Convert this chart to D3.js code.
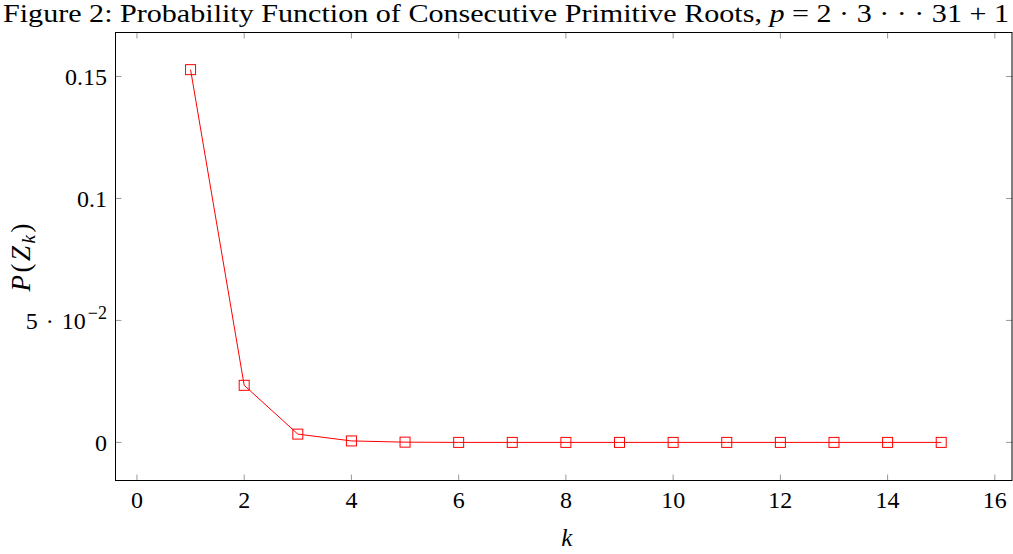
<!DOCTYPE html>
<html>
<head>
<meta charset="utf-8">
<script src="https://d3js.org/d3.v7.min.js"></script>
<style>
body { margin: 0; background: #fff; }
text { font-family: "Liberation Serif", "DejaVu Serif", serif; fill: #000; }
</style>
</head>
<body>
<svg></svg>
<script>
let width = 1013, height = 554;

// data
var kValues = [1, 2, 3, 4, 5, 6, 7, 8, 9, 10, 11, 12, 13, 14, 15];
var probValues = [0.1528, 0.0234, 0.0034, 0.0006, 0.0001, 0, 0, 0, 0, 0, 0, 0, 0, 0, 0];
var xTicks = [0, 2, 4, 6, 8, 10, 12, 14, 16];
var yTicks = [0, 0.05, 0.1, 0.15];

let svg = d3.select("svg").attr("width", width).attr("height", height);

let plotLeft = 115.5, plotRight = 1012, plotTop = 32.5, plotBottom = 480.5;

var x = d3.scaleLinear().domain([-0.4, 16.32]).range([plotLeft, plotRight]);
var y = d3.scaleLinear().domain([-0.01562, 0.16803]).range([plotBottom, plotTop]);

// tick marks (inside, both sides)
let ticks = svg.append("g").attr("stroke", "#999").attr("stroke-width", 1);
xTicks.forEach(function(t) {
    ticks.append("line").attr("x1", x(t)).attr("x2", x(t)).attr("y1", plotBottom).attr("y2", plotBottom - 6);
    ticks.append("line").attr("x1", x(t)).attr("x2", x(t)).attr("y1", plotTop).attr("y2", plotTop + 6);
});
yTicks.forEach(function(t) {
    ticks.append("line").attr("y1", y(t)).attr("y2", y(t)).attr("x1", plotLeft).attr("x2", plotLeft + 6);
    ticks.append("line").attr("y1", y(t)).attr("y2", y(t)).attr("x1", plotRight).attr("x2", plotRight - 6);
});

// frame
svg.append("rect")
    .attr("x", plotLeft).attr("y", plotTop)
    .attr("width", plotRight - plotLeft).attr("height", plotBottom - plotTop)
    .attr("fill", "none").attr("stroke", "#000").attr("stroke-width", 1);

// x tick labels
svg.append("g").selectAll("text")
    .data(xTicks).enter().append("text")
    .attr("x", d => x(d)).attr("y", 508)
    .attr("text-anchor", "middle")
    .style("font-size", "24px")
    .text(d => d);

// y tick labels
var yLabels = svg.append("g");
yTicks.forEach(function(t) {
    var tx = yLabels.append("text")
        .attr("x", 107).attr("y", y(t) + 8.5)
        .attr("text-anchor", "end")
        .style("font-size", "24px");
    if (t === 0.05) {
        tx.append("tspan").text("5");
        tx.append("tspan").attr("dx", 8).text("\u00b7");
        tx.append("tspan").attr("dx", 8).text("10");
        tx.append("tspan").attr("dy", -10).attr("dx", 2).style("font-size", "18px").text("\u22122");
    } else {
        tx.text(t === 0 ? "0" : d3.format("")(t));
    }
});

// axis labels
svg.append("text")
    .attr("x", (plotLeft + plotRight) / 2 + 3).attr("y", 546)
    .attr("text-anchor", "middle")
    .style("font-size", "25px").style("font-style", "italic")
    .text("k");

var yl = svg.append("text")
    .attr("transform", "translate(30," + ((plotTop + plotBottom) / 2 + 1) + ") rotate(-90)")
    .attr("text-anchor", "middle")
    .attr("textLength", 68).attr("lengthAdjust", "spacing")
    .style("font-size", "27px");
yl.append("tspan").style("font-style", "italic").text("P");
yl.append("tspan").text("(");
yl.append("tspan").style("font-style", "italic").text("Z");
yl.append("tspan").attr("dy", 5).style("font-size", "19px").style("font-style", "italic").text("k");
yl.append("tspan").attr("dy", -5).text(")");

// title
var title = svg.append("text")
    .attr("x", 3).attr("y", 22)
    .attr("textLength", 1006).attr("lengthAdjust", "spacingAndGlyphs")
    .style("font-size", "25px");
title.append("tspan").text("Figure 2:  Probability Function of Consecutive Primitive Roots, ");
title.append("tspan").style("font-style", "italic").text("p");
title.append("tspan").text(" = 2 \u00b7 3 \u00b7 \u00b7 \u00b7 31 + 1");

// line + markers
var line = d3.line().x((d, i) => x(kValues[i])).y(d => y(d));
svg.append("path")
    .datum(probValues)
    .attr("d", line)
    .attr("fill", "none").attr("stroke", "#ff0000").attr("stroke-width", 1);

svg.append("g").selectAll("rect")
    .data(probValues).enter().append("rect")
    .attr("x", (d, i) => x(kValues[i]) - 5)
    .attr("y", d => y(d) - 5)
    .attr("width", 10).attr("height", 10)
    .attr("fill", "none").attr("stroke", "#ff0000").attr("stroke-width", 1);
</script>
</body>
</html>
